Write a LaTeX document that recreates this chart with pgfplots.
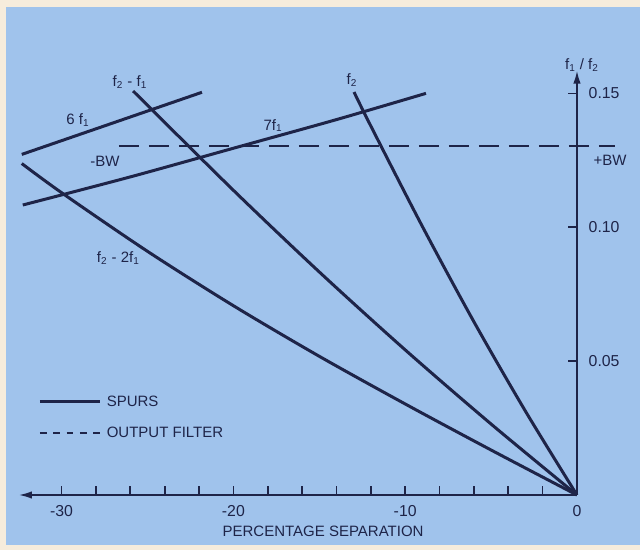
\documentclass[border=0pt]{standalone}
\usepackage{fontspec}
\setmainfont{Liberation Sans}
\usepackage{pgfplots}
\pgfplotsset{compat=1.18}
\usetikzlibrary{arrows.meta}
\definecolor{cream}{RGB}{246,236,220}
\definecolor{panel}{RGB}{160,195,236}
\definecolor{ink}{RGB}{30,36,72}

\begin{document}
\begin{tikzpicture}[font=\fontsize{9}{10.5}\selectfont]
\fill[cream] (-11.19pt,-33pt) rectangle (372.81pt,297pt);
\fill[panel] (-7.59pt,-30pt) rectangle (372.81pt,292.8pt);
\begin{axis}[
  at={(0pt,0pt)}, anchor=south west,
  scale only axis, width=335.0pt, height=254.8pt,
  xmin=-32.5, xmax=0, ymin=0, ymax=0.1586,
  axis x line=bottom, axis y line=right,
  x axis line style={{Latex[length=8pt,width=4.5pt]}-, line width=1.2pt, draw=ink},
  y axis line style={-{Latex[length=8pt,width=4.5pt]}, line width=1.2pt, draw=ink},
  xtick={-30,-28,...,0},
  xticklabels={-30,{},{},{},{},-20,{},{},{},{},-10,{},{},{},{},0},
  ytick={0.05,0.10,0.15},
  yticklabels={0.05,0.10,0.15},
  tick align=inside, major tick length=5.5pt,
  tick style={draw=ink, line width=1pt},
  xticklabel style={text=ink, font=\fontsize{9.5}{11}\selectfont, yshift=-3pt},
  yticklabel style={text=ink, font=\fontsize{9.5}{11}\selectfont, xshift=3.5pt},
  clip=false,
  spur/.style={draw=ink, line width=1.8pt, no marks, smooth},
]
% f2
\addplot[spur] coordinates {(0,0) (-3,0.0313) (-6,0.0647) (-9,0.1003) (-12,0.1378) (-12.98,0.1505)};
% f2 - f1
\addplot[spur] coordinates {(0,0) (-5,0.0265) (-10,0.0542) (-15,0.0833) (-20,0.1138) (-25.84,0.1509)};
% f2 - 2f1
\addplot[spur] coordinates {(0,0) (-5,0.0168) (-10,0.0340) (-15,0.0518) (-20,0.0707) (-25,0.0910) (-30,0.1129) (-32.32,0.1238)};
% 6f1
\addplot[spur] coordinates {(-32.32,0.1272) (-21.83,0.1504)};
% 7f1
\addplot[spur] coordinates {(-32.26,0.1083) (-26,0.1188) (-20,0.1295) (-14,0.1402) (-8.79,0.1500)};
% output filter
\addplot[draw=ink, line width=1.2pt, no marks, dash pattern=on 12pt off 6pt] coordinates {(-26.66,0.1303) (2.21,0.1303)};

% labels
\node[text=ink] at (-26.02,0.1542) {f\textsubscript{2} - f\textsubscript{1}};
\node[text=ink] at (-13.1,0.1550) {f\textsubscript{2}};
\node[text=ink] at (-29.05,0.1400) {6 f\textsubscript{1}};
\node[text=ink] at (-17.69,0.1380) {7f\textsubscript{1}};
\node[text=ink] at (-27.47,0.1245) {-BW};
\node[text=ink] at (1.92,0.1251) {+BW};
\node[text=ink] at (-26.7,0.0885) {f\textsubscript{2} - 2f\textsubscript{1}};
\node[text=ink] at (0.29,0.1606) {f\textsubscript{1} / f\textsubscript{2}};
\node[text=ink] at (-14.78,-0.01344) {PERCENTAGE SEPARATION};
% legend
\draw[ink, line width=1.8pt] (-31.26,0.0348) -- (-27.77,0.0348);
\node[text=ink, anchor=west, inner sep=0pt] at (-27.39,0.0348) {SPURS};
\draw[ink, line width=1.2pt, dash pattern=on 4pt off 4pt] (-31.26,0.0233) -- (-27.6,0.0233);
\node[text=ink, anchor=west, inner sep=0pt] at (-27.39,0.0233) {OUTPUT FILTER};
\end{axis}
\end{tikzpicture}
\end{document}
